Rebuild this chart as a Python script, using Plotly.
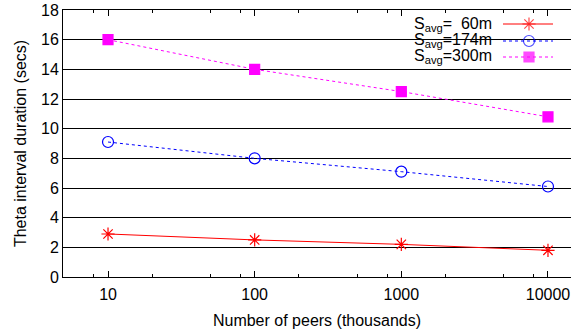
import plotly.graph_objects as go

peers = [10, 100, 1000, 10000]
s60 = [2.9, 2.5, 2.2, 1.8]
s174 = [9.1, 8.0, 7.1, 6.1]
s300 = [16.0, 14.0, 12.5, 10.8]
labels = ["S<sub>avg</sub>=\u00a0\u00a060m", "S<sub>avg</sub>=174m", "S<sub>avg</sub>=300m"]
colors = ["#ff0000", "#0000ff", "#ff00ff"]
dashes = ["solid", "dot", "dot"]
symbols = ["asterisk-open", "circle-open", "square"]
sizes = [11, 11, 10]
series = [s60, s174, s300]

FONT = "Liberation Sans, Arial, sans-serif"
W, H = 571, 334
# plot area in window pixels: x 63..571, y 10..277
ml, mr, mt, mb = 63, 0, 10, H - 277
pw, ph = W - ml - mr, H - mt - mb


def px(xw):
    return xw - ml


def py(yw):
    return 277 - yw


fig = go.Figure()
for lab, ys, c, d, s, sz in zip(labels, series, colors, dashes, symbols, sizes):
    fig.add_trace(go.Scatter(
        x=peers, y=ys, mode="lines+markers", name=lab,
        line=dict(color=c, width=1, dash=d),
        marker=dict(symbol=s, size=sz, color=c, line=dict(color=c, width=1.2)),
        showlegend=False))

# custom legend (key samples on the right, like gnuplot)
fig.add_shape(type="rect", xref="paper", yref="paper",
              x0=px(360) / pw, x1=px(563) / pw, y0=py(64) / ph, y1=1,
              fillcolor="white", line=dict(width=0), layer="between")
rows_px = [24, 41, 57]
for lab, c, d, s, sz, ry in zip(labels, colors, dashes, symbols, sizes, rows_px):
    yv = py(ry)
    fig.add_trace(go.Scatter(
        x=[px(503), px(529), px(553)], y=[yv, yv, yv], mode="lines+markers",
        xaxis="x2", yaxis="y2", showlegend=False, hoverinfo="skip",
        line=dict(color=c, width=1, dash=d),
        marker=dict(symbol=s, size=[0, sz, 0], color=c, line=dict(color=c, width=1.2))))
    fig.add_annotation(x=px(494) / pw, y=yv / ph, xref="paper", yref="paper",
                       text=lab, showarrow=False, xanchor="right", yanchor="middle",
                       font=dict(size=16, color="black", family=FONT))

fig.update_layout(
    width=W, height=H,
    margin=dict(l=ml, r=mr, t=mt, b=mb, autoexpand=False),
    plot_bgcolor="white", paper_bgcolor="white",
    font=dict(family=FONT, size=16, color="black"),
    showlegend=False,
    xaxis=dict(type="log", range=[0.693, 4.157], tickvals=peers,
               ticktext=["10", "100", "1000", "10000"],
               ticks="inside", ticklen=6, tickcolor="black",
               ticklabeloverflow="allow", automargin=False, ticklabelstandoff=3,
               showline=True, linecolor="black", linewidth=1, mirror="ticks",
               showgrid=False, zeroline=False,
               minor=dict(ticks="inside", ticklen=3, tickcolor="black",
                          tickvals=[8, 20, 50, 80, 200, 500, 800, 2000, 5000, 8000], showgrid=False),
               title=dict(text="Number of peers (thousands)", standoff=12,
                          font=dict(size=16))),
    yaxis=dict(range=[0, 18], dtick=2, ticks="inside", ticklen=6, tickcolor="black",
               showline=True, linecolor="black", linewidth=1, mirror="ticks",
               automargin=False, ticklabeloverflow="allow",
               showgrid=True, gridcolor="black", gridwidth=1, zeroline=False,
               title=dict(text="Theta interval duration (secs)", standoff=10,
                          font=dict(size=16))),
    xaxis2=dict(range=[0, pw], overlaying="x", visible=False, fixedrange=True),
    yaxis2=dict(range=[0, ph], overlaying="y", visible=False, fixedrange=True),
)

fig.write_html(
    "out.html",
    config={"displayModeBar": False},
    post_script="document.body.style.margin='0';document.body.style.overflow='hidden';",
)
